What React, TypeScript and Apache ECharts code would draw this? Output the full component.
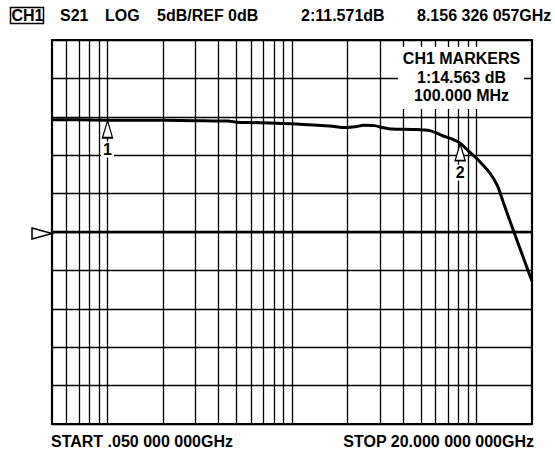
import React, { useEffect, useRef } from "react";
import * as echarts from "echarts";

// Log-frequency grid lines (GHz)
const gridFreqGHz = [0.06, 0.07, 0.08, 0.09, 0.1, 0.2, 0.3, 0.4, 0.5, 0.6, 0.7, 0.8, 0.9, 1, 2, 3, 4, 5, 6, 7, 8, 9, 10];

// S21 trace (GHz, dB)
const traceFreqGHz = [0.05, 0.07, 0.1, 0.2, 0.3, 0.4, 0.45, 0.5, 0.6, 0.76, 1.0, 1.25, 1.6, 1.98, 2.2, 2.45, 2.8, 3.1, 3.5, 4.5, 5.6, 6.6, 7.4, 8.156, 9, 10, 11.8, 13, 14, 15.8, 20];
const traceDb = [14.6, 14.6, 14.563, 14.55, 14.5, 14.45, 14.45, 14.3, 14.25, 14.2, 14.1, 13.95, 13.8, 13.6, 13.7, 13.9, 13.85, 13.6, 13.4, 13.35, 13.2, 12.5, 12.1, 11.571, 10.6, 9.6, 7.7, 6.0, 3.8, 0.3, -6.4];

// Markers
const markerLabels = ["1", "2"];
const markerFreqGHz = [0.1, 8.156326057];
const markerDb = [14.563, 11.571];

// Texts
const headerTexts = ["CH1", "S21", "LOG", "5dB/REF 0dB", "2:11.571dB", "8.156 326 057GHz"];
const markerBoxTexts = ["CH1 MARKERS", "1:14.563 dB", "100.000 MHz"];
const startText = "START .050 000 000GHz";
const stopText = "STOP 20.000 000 000GHz";

const FONT = "bold 16px 'Liberation Sans', Arial, sans-serif";

export default function App() {
  const ref = useRef<HTMLDivElement>(null);
  useEffect(() => {
    document.body.style.margin = "0";
    const chart = echarts.init(ref.current!, null, { renderer: "svg" });
    const headerX = [11.5, 60, 105, 157, 301, 417];
    const option: any = {
      animation: false,
      backgroundColor: "#fff",
      grid: { left: 52, top: 40, width: 480, height: 384, show: true, borderColor: "#000", borderWidth: 2.2, backgroundColor: "transparent" },
      xAxis: {
        type: "log", logBase: 10, min: 0.05, max: 20,
        axisLine: { show: false }, axisTick: { show: false }, axisLabel: { show: false }, splitLine: { show: false },
      },
      yAxis: {
        type: "value", min: -25, max: 25, interval: 5,
        axisLine: { show: false }, axisTick: { show: false }, axisLabel: { show: false },
        splitLine: { show: true, lineStyle: { color: "#000", width: 1.3 } },
      },
      series: [
        {
          type: "line", name: "grid", z: 1, silent: true,
          data: [[0.05, -25]], symbol: "none", lineStyle: { opacity: 0 },
          markLine: {
            silent: true, symbol: ["none", "none"], label: { show: false }, animation: false,
            lineStyle: { color: "#000", width: 1.3, type: "solid" },
            data: [
              ...gridFreqGHz.map((f) => ({ xAxis: f })),
              { yAxis: 0, lineStyle: { color: "#000", width: 2.4, type: "solid" } },
            ],
          },
        },
        {
          type: "line", name: "S21", z: 3, smooth: 0.3, showSymbol: false, symbol: "none",
          data: traceFreqGHz.map((f, i) => [f, traceDb[i]]),
          lineStyle: { color: "#000", width: 3 },
          markPoint: {
            silent: true, z: 5,
            symbol: "triangle", symbolSize: [10, 17], symbolOffset: [0, 9],
            itemStyle: { color: "#fff", borderColor: "#000", borderWidth: 1.5 },
            label: {
              show: true, position: "bottom", distance: 3, color: "#000",
              fontFamily: "'Liberation Sans', Arial, sans-serif", fontWeight: "bold", fontSize: 16,
              backgroundColor: "#fff", padding: [0, 2, 0, 2],
            },
            data: markerLabels.map((l, i) => ({ coord: [markerFreqGHz[i], markerDb[i]], value: l, label: { formatter: l } })),
          },
        },
      ],
      graphic: [
        { type: "rect", z: 100, shape: { x: 10.5, y: 7.5, width: 33, height: 16 }, style: { fill: "none", stroke: "#000", lineWidth: 1.5 } },
        ...headerTexts.map((t, i) => ({
          type: "text", z: 101, x: headerX[i], y: 15.5,
          style: { text: t, font: FONT, fill: "#000", textAlign: "left", textVerticalAlign: "middle" },
        })),
        { type: "polygon", z: 100, shape: { points: [[32, 228], [52, 233.5], [32, 239]] }, style: { fill: "#fff", stroke: "#000", lineWidth: 1.5 } },
        { type: "rect", z: 100, shape: { x: 398, y: 47, width: 126, height: 62 }, style: { fill: "#fff", stroke: "none" } },
        ...markerBoxTexts.map((t, i) => ({
          type: "text", z: 101, x: 461.5, y: 58.5 + i * 18.5,
          style: { text: t, font: FONT, fill: "#000", textAlign: "center", textVerticalAlign: "middle" },
        })),
        { type: "text", z: 101, x: 51, y: 441, style: { text: startText, font: FONT, fill: "#000", textAlign: "left", textVerticalAlign: "middle" } },
        { type: "text", z: 101, x: 534, y: 441, style: { text: stopText, font: FONT, fill: "#000", textAlign: "right", textVerticalAlign: "middle" } },
      ],
    };
    chart.setOption(option);
    return () => chart.dispose();
  }, []);
  return <div ref={ref} style={{ width: 555, height: 453 }} />;
}
